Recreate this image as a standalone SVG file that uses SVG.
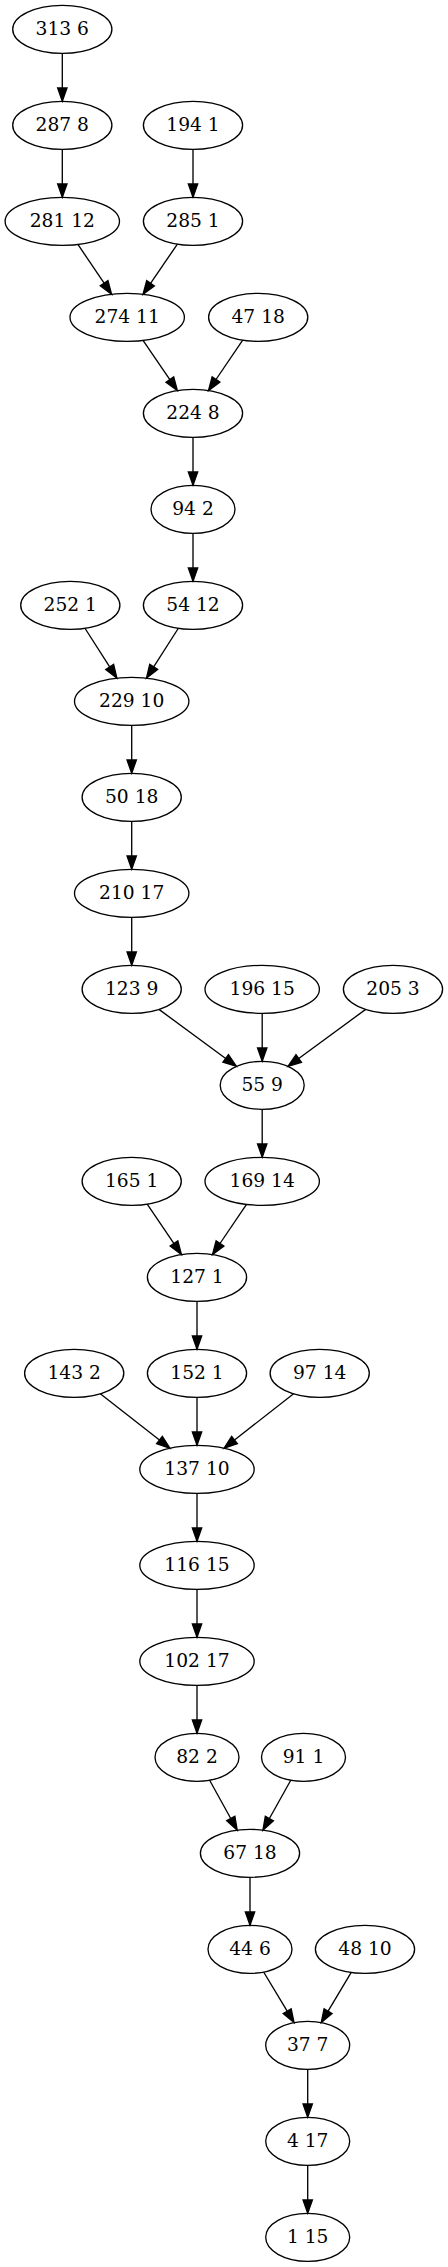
<svg xmlns="http://www.w3.org/2000/svg" width="448" height="2267" viewBox="0 0 448 2267">
<style>
.node ellipse{fill:none;stroke:#000;stroke-width:1.33}
.node text{font-family:"DejaVu Serif","Liberation Serif",serif;font-size:18.67px;text-anchor:middle;fill:#000}
#edges path{fill:none;stroke:#000;stroke-width:1.33;marker-end:url(#arr)}
</style>
<defs>
<marker id="arr" markerUnits="userSpaceOnUse" orient="auto" markerWidth="16" markerHeight="12" refX="0" refY="6" overflow="visible">
<path d="M0,1.33 L13.33,6 L0,10.67 Z" fill="#000" stroke="#000" stroke-width="1.33"/>
</marker>
</defs>
<rect width="448" height="2267" fill="#fff"/>
<g id="edges">
<path d="M62.3,53.33 L62.3,88"/>
<path d="M62.3,149.33 L62.3,184"/>
<path d="M193,149.33 L193,184"/>
<path d="M77.91,244.42 L104.12,283.2"/>
<path d="M177.39,244.11 L150.55,283.26"/>
<path d="M143.01,340.4 L169.85,379.55"/>
<path d="M242.71,340.13 L215.98,379.5"/>
<path d="M193,437.33 L193,472"/>
<path d="M193,533.33 L193,568"/>
<path d="M84.96,628.26 L109.69,666.92"/>
<path d="M178.36,628.26 L153.67,666.91"/>
<path d="M131.7,725.33 L131.7,760"/>
<path d="M131.7,821.33 L131.7,856"/>
<path d="M131.7,917.33 L131.7,952"/>
<path d="M158.96,1009.38 L225.69,1058.48"/>
<path d="M262.2,1013.33 L262.2,1048"/>
<path d="M365.7,1009.37 L298.75,1058.5"/>
<path d="M262.2,1109.33 L262.2,1144"/>
<path d="M147.21,1204.13 L173.99,1243.51"/>
<path d="M246.52,1204.41 L219.98,1243.5"/>
<path d="M197,1301.33 L197,1336"/>
<path d="M100.3,1393.74 L159.45,1439.97"/>
<path d="M197,1397.33 L197,1432"/>
<path d="M293.61,1393.74 L234.53,1439.97"/>
<path d="M197,1493.33 L197,1528"/>
<path d="M197,1589.33 L197,1624"/>
<path d="M197,1685.33 L197,1720"/>
<path d="M209.64,1780.22 L230.76,1818.47"/>
<path d="M290.76,1780.2 L269.4,1818.52"/>
<path d="M250,1877.33 L250,1912"/>
<path d="M263.64,1972.03 L287.19,2011.2"/>
<path d="M351.24,1972.39 L328.09,2011.16"/>
<path d="M307.7,2069.33 L307.7,2104"/>
<path d="M307.7,2165.33 L307.7,2200"/>
</g>
<g id="n313" class="node"><ellipse cx="62.3" cy="29.33" rx="49.6" ry="24"/><text x="62.3" y="34.53">313 6</text></g>
<g id="n287" class="node"><ellipse cx="62.3" cy="125.33" rx="49.6" ry="24"/><text x="62.3" y="130.53">287 8</text></g>
<g id="n194" class="node"><ellipse cx="193" cy="125.33" rx="49.6" ry="24"/><text x="193" y="130.53">194 1</text></g>
<g id="n281" class="node"><ellipse cx="62.3" cy="221.33" rx="57.2" ry="24"/><text x="62.3" y="226.53">281 12</text></g>
<g id="n285" class="node"><ellipse cx="193" cy="221.33" rx="49.6" ry="24"/><text x="193" y="226.53">285 1</text></g>
<g id="n274" class="node"><ellipse cx="127.2" cy="317.33" rx="57.2" ry="24"/><text x="127.2" y="322.53">274 11</text></g>
<g id="n47" class="node"><ellipse cx="258.2" cy="317.33" rx="49.6" ry="24"/><text x="258.2" y="322.53">47 18</text></g>
<g id="n224" class="node"><ellipse cx="193" cy="413.33" rx="49.6" ry="24"/><text x="193" y="418.53">224 8</text></g>
<g id="n94" class="node"><ellipse cx="193" cy="509.33" rx="42" ry="24"/><text x="193" y="514.53">94 2</text></g>
<g id="n252" class="node"><ellipse cx="70.3" cy="605.33" rx="49.6" ry="24"/><text x="70.3" y="610.53">252 1</text></g>
<g id="n54" class="node"><ellipse cx="193" cy="605.33" rx="49.6" ry="24"/><text x="193" y="610.53">54 12</text></g>
<g id="n229" class="node"><ellipse cx="131.7" cy="701.33" rx="57.2" ry="24"/><text x="131.7" y="706.53">229 10</text></g>
<g id="n50" class="node"><ellipse cx="131.7" cy="797.33" rx="49.6" ry="24"/><text x="131.7" y="802.53">50 18</text></g>
<g id="n210" class="node"><ellipse cx="131.7" cy="893.33" rx="57.2" ry="24"/><text x="131.7" y="898.53">210 17</text></g>
<g id="n123" class="node"><ellipse cx="131.7" cy="989.33" rx="49.6" ry="24"/><text x="131.7" y="994.53">123 9</text></g>
<g id="n196" class="node"><ellipse cx="262.2" cy="989.33" rx="57.2" ry="24"/><text x="262.2" y="994.53">196 15</text></g>
<g id="n205" class="node"><ellipse cx="393" cy="989.33" rx="49.6" ry="24"/><text x="393" y="994.53">205 3</text></g>
<g id="n55" class="node"><ellipse cx="262.2" cy="1085.33" rx="42" ry="24"/><text x="262.2" y="1090.53">55 9</text></g>
<g id="n165" class="node"><ellipse cx="131.7" cy="1181.33" rx="49.6" ry="24"/><text x="131.7" y="1186.53">165 1</text></g>
<g id="n169" class="node"><ellipse cx="262.2" cy="1181.33" rx="57.2" ry="24"/><text x="262.2" y="1186.53">169 14</text></g>
<g id="n127" class="node"><ellipse cx="197" cy="1277.33" rx="49.6" ry="24"/><text x="197" y="1282.53">127 1</text></g>
<g id="n143" class="node"><ellipse cx="74.2" cy="1373.33" rx="49.6" ry="24"/><text x="74.2" y="1378.53">143 2</text></g>
<g id="n152" class="node"><ellipse cx="197" cy="1373.33" rx="49.6" ry="24"/><text x="197" y="1378.53">152 1</text></g>
<g id="n97" class="node"><ellipse cx="319.7" cy="1373.33" rx="49.6" ry="24"/><text x="319.7" y="1378.53">97 14</text></g>
<g id="n137" class="node"><ellipse cx="197" cy="1469.33" rx="57.2" ry="24"/><text x="197" y="1474.53">137 10</text></g>
<g id="n116" class="node"><ellipse cx="197" cy="1565.33" rx="57.2" ry="24"/><text x="197" y="1570.53">116 15</text></g>
<g id="n102" class="node"><ellipse cx="197" cy="1661.33" rx="57.2" ry="24"/><text x="197" y="1666.53">102 17</text></g>
<g id="n82" class="node"><ellipse cx="197" cy="1757.33" rx="42" ry="24"/><text x="197" y="1762.53">82 2</text></g>
<g id="n91" class="node"><ellipse cx="303.5" cy="1757.33" rx="42" ry="24"/><text x="303.5" y="1762.53">91 1</text></g>
<g id="n67" class="node"><ellipse cx="250" cy="1853.33" rx="49.6" ry="24"/><text x="250" y="1858.53">67 18</text></g>
<g id="n44" class="node"><ellipse cx="250" cy="1949.33" rx="42" ry="24"/><text x="250" y="1954.53">44 6</text></g>
<g id="n48" class="node"><ellipse cx="365" cy="1949.33" rx="49.6" ry="24"/><text x="365" y="1954.53">48 10</text></g>
<g id="n37" class="node"><ellipse cx="307.7" cy="2045.33" rx="42" ry="24"/><text x="307.7" y="2050.53">37 7</text></g>
<g id="n4" class="node"><ellipse cx="307.7" cy="2141.33" rx="42" ry="24"/><text x="307.7" y="2146.53">4 17</text></g>
<g id="n1" class="node"><ellipse cx="307.7" cy="2237.33" rx="42" ry="24"/><text x="307.7" y="2242.53">1 15</text></g>
</svg>
